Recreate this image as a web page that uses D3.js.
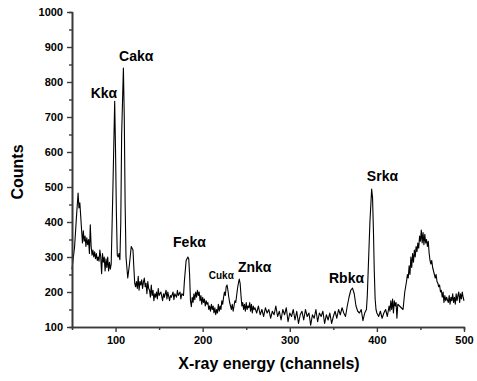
<!DOCTYPE html>
<html lang="en">
<head>
<meta charset="UTF-8">
<title>X-ray spectrum</title>
<script src="https://cdn.jsdelivr.net/npm/d3@7"></script>
<style>
    body { margin: 0; background: #fff; }
    text { font-family: "Liberation Sans", Arial, sans-serif; font-weight: bold; }
</style>
</head>
<body>
<div id="container"></div>
<script>
// spectrum (channel / counts)
const channels = [
    50, 53, 55, 57, 58, 59, 61, 62, 63, 64, 65, 66, 67, 68, 69, 70, 71, 72, 73, 74,
    75, 76, 77, 78, 79, 80, 81, 82, 83, 84, 85, 86, 87, 88, 89, 90, 91, 92, 93, 94,
    95, 97, 99, 100, 101, 102, 103, 104, 105, 106, 107, 109, 110, 111, 112, 114, 116, 118, 119, 120,
    121, 122, 123, 124, 125, 126, 127, 128, 129, 130, 131, 132, 133, 134, 135, 136, 137, 138, 139, 140,
    141, 142, 143, 144, 145, 146, 147, 148, 149, 150, 152, 154, 155, 156, 158, 159, 160, 162, 163, 164,
    166, 167, 168, 170, 171, 172, 174, 175, 176, 178, 179, 181, 183, 184, 185, 186, 187, 188, 189, 190,
    191, 192, 193, 194, 195, 196, 197, 198, 199, 200, 201, 202, 203, 204, 205, 206, 207, 208, 209, 210,
    211, 212, 213, 214, 215, 216, 217, 218, 219, 220, 221, 222, 223, 224, 225, 226, 227, 228, 229, 230,
    231, 232, 233, 234, 235, 236, 237, 238, 239, 240, 241, 242, 243, 244, 245, 246, 247, 248, 249, 250,
    251, 252, 253, 254, 255, 256, 257, 258, 259, 260, 262, 264, 266, 268, 270, 272, 274, 276, 278, 280,
    282, 284, 286, 288, 290, 292, 294, 296, 298, 300, 302, 304, 306, 308, 310, 312, 314, 316, 318, 320,
    322, 324, 326, 328, 330, 332, 334, 336, 338, 340, 342, 344, 346, 348, 350, 352, 354, 356, 358, 360,
    362, 364, 366, 368, 370, 372, 374, 376, 378, 380, 382, 384, 386, 388, 389, 390, 392, 394, 395, 396,
    397, 398, 399, 400, 402, 404, 406, 408, 410, 412, 414, 415, 416, 417, 418, 419, 420, 421, 422, 423,
    424, 426, 428, 430, 431, 432, 434, 435, 436, 437, 438, 439, 440, 441, 442, 443, 444, 445, 446, 447,
    448, 449, 450, 451, 452, 453, 454, 455, 456, 457, 458, 459, 460, 461, 462, 463, 464, 465, 466, 467,
    468, 469, 470, 471, 472, 473, 474, 475, 476, 477, 478, 479, 480, 482, 483, 484, 485, 486, 487, 488,
    489, 490, 491, 492, 493, 494, 495, 496, 497, 498, 499, 500
];
const counts = [
    265, 330, 410, 483, 440, 455, 378, 340, 375, 345, 360, 330, 355, 335, 350, 310, 392, 330, 305, 320,
    300, 315, 295, 310, 290, 300, 288, 320, 300, 252, 310, 285, 300, 260, 295, 270, 300, 260, 285, 265,
    280, 500, 745, 600, 420, 305, 300, 310, 292, 400, 650, 840, 700, 450, 300, 240, 280, 330, 325, 320,
    270, 225, 215, 230, 210, 245, 205, 230, 220, 235, 210, 228, 240, 215, 225, 195, 230, 210, 205, 185,
    220, 190, 205, 175, 195, 185, 200, 180, 210, 190, 200, 175, 195, 185, 205, 180, 200, 175, 190, 185,
    200, 178, 195, 185, 205, 190, 200, 180, 195, 190, 230, 290, 300, 295, 250, 175, 158, 185, 170, 195,
    178, 200, 185, 205, 190, 200, 175, 190, 165, 185, 170, 180, 160, 175, 165, 170, 150, 160, 145, 165,
    150, 160, 140, 155, 135, 150, 140, 165, 145, 160, 150, 175, 165, 185, 200, 190, 215, 220, 205, 185,
    170, 160, 150, 165, 145, 160, 175, 170, 190, 210, 225, 237, 225, 190, 160, 170, 150, 165, 145, 170,
    150, 160, 155, 170, 145, 165, 140, 160, 150, 155, 140, 160, 135, 150, 130, 155, 140, 150, 125, 145,
    135, 160, 130, 145, 120, 150, 135, 155, 115, 140, 130, 150, 120, 145, 110, 135, 145, 120, 150, 130,
    140, 105, 135, 125, 150, 115, 140, 130, 145, 110, 135, 120, 140, 110, 130, 145, 125, 150, 135, 155,
    140, 130, 160, 185, 205, 211, 195, 160, 145, 140, 150, 118, 140, 150, 190, 260, 400, 494, 470, 380,
    260, 180, 150, 140, 130, 145, 125, 140, 150, 130, 160, 145, 175, 150, 180, 140, 175, 160, 170, 125,
    165, 160, 155, 150, 175, 200, 230, 250, 240, 275, 250, 300, 270, 310, 285, 320, 300, 330, 315, 340,
    325, 360, 345, 377, 340, 370, 335, 365, 340, 350, 330, 345, 310, 290, 280, 290, 270, 260, 250, 240,
    250, 230, 225, 215, 220, 200, 205, 185, 200, 170, 190, 175, 185, 170, 190, 165, 185, 175, 195, 170,
    185, 165, 195, 175, 190, 200, 170, 195, 180, 200, 185, 175
];

const xTicks = [100, 200, 300, 400, 500];
const xMinor = [150, 250, 350, 450];
const yTicks = [100, 200, 300, 400, 500, 600, 700, 800, 900, 1000];
const yMinor = [150, 250, 350, 450, 550, 650, 750, 850, 950];

// peak labels: text, channel, counts where text starts
const peakNames = ["Kk\u03b1", "Cak\u03b1", "Fek\u03b1", "Cuk\u03b1", "Znk\u03b1", "Rbk\u03b1", "Srk\u03b1"];
const peakCh = [71.5, 104, 166, 207, 240.5, 345, 388.5];
const peakCt = [754, 860, 329, 237, 257, 226, 517];

const width = 477, height = 381;
const margin = { top: 12, right: 13, bottom: 54, left: 72 };

const x = d3.scaleLinear().domain([50, 500]).range([margin.left, width - margin.right]);
const y = d3.scaleLinear().domain([100, 1000]).range([height - margin.bottom, margin.top]);

const svg = d3.create("svg")
    .attr("width", width)
    .attr("height", height);

const data = channels.map((c, i) => [c, counts[i]]);

const line = d3.line()
    .x(d => x(d[0]))
    .y(d => y(d[1]));

svg.append("path")
    .attr("fill", "none")
    .attr("stroke", "#000")
    .attr("stroke-width", 1.1)
    .attr("stroke-linejoin", "round")
    .attr("d", line(data));

// axes
const axisColor = "#3a3a3a";

const gx = svg.append("g")
    .attr("transform", `translate(0,${height - margin.bottom})`);
gx.call(d3.axisBottom(x).tickValues(xTicks).tickFormat(d3.format("d")).tickSize(5).tickSizeOuter(0));
gx.append("g").call(d3.axisBottom(x).tickValues(xMinor).tickSize(3).tickFormat(""));

const gy = svg.append("g")
    .attr("transform", `translate(${margin.left},0)`);
gy.call(d3.axisLeft(y).tickValues(yTicks).tickFormat(d3.format("d")).tickSize(5).tickSizeOuter(0));
gy.append("g").call(d3.axisLeft(y).tickValues(yMinor).tickSize(3).tickFormat(""));

svg.selectAll(".domain").attr("stroke", axisColor).attr("stroke-width", 1.6);
svg.selectAll(".tick line").attr("stroke", axisColor).attr("stroke-width", 1.4);
svg.selectAll(".tick text")
    .attr("fill", "#000")
    .style("font-size", "11px")
    .style("font-family", "'Liberation Sans', Arial, sans-serif")
    .style("font-weight", "bold");
gy.selectAll(".tick text").attr("x", -9);
gx.selectAll(".tick text").attr("y", 9);

// peak labels
svg.append("g")
    .selectAll("text")
    .data(peakNames)
    .join("text")
    .attr("x", (d, i) => x(peakCh[i]))
    .attr("y", (d, i) => y(peakCt[i]))
    .style("font-size", d => d.startsWith("Cu") ? "10px" : "14px")
    .text(d => d);

// axis titles
svg.append("text")
    .attr("x", 269)
    .attr("y", 369)
    .attr("text-anchor", "middle")
    .style("font-size", "16px")
    .text("X-ray energy (channels)");

svg.append("text")
    .attr("transform", "translate(23,172) rotate(-90)")
    .attr("text-anchor", "middle")
    .style("font-size", "16px")
    .text("Counts");

document.getElementById("container").append(svg.node());
</script>
</body>
</html>
